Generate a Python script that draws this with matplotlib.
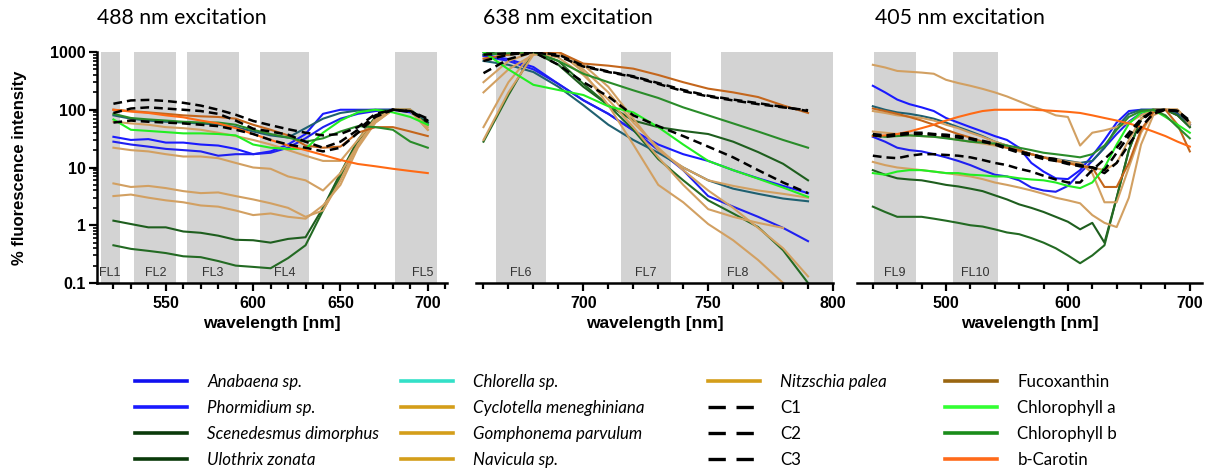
import numpy as np
import matplotlib.pyplot as plt
from matplotlib.lines import Line2D
from matplotlib.ticker import MultipleLocator, LogLocator, FixedLocator, FixedFormatter, NullFormatter

plt.rcParams['font.family'] = ['Liberation Sans', 'DejaVu Sans']

# ---------------- data: 488 nm excitation ----------------
wl_488 = [520, 530, 540, 550, 560, 570, 580, 590, 600, 610, 620, 630, 640, 650, 660, 670, 680, 690, 700]
anabaena_488 = [34, 30, 31, 27, 27, 25, 24, 21, 17, 19, 25, 38, 85, 100, 100, 100, 100, 90, 60]
phormidium_488 = [28, 25, 23, 21, 20, 19, 16, 17, 17, 18, 22, 32, 50, 70, 85, 95, 100, 95, 60]
scenedesmus_488 = [1.2, 1.05, 0.92, 0.92, 0.78, 0.74, 0.66, 0.56, 0.55, 0.5, 0.58, 0.62, 2.0, 8, 30, 75, 100, 100, 60]
ulothrix_488 = [0.45, 0.39, 0.36, 0.33, 0.29, 0.28, 0.24, 0.2, 0.19, 0.18, 0.27, 0.45, 1.8, 7, 28, 70, 100, 100, 55]
chlorella_488 = [80, 70, 65, 62, 60, 58, 55, 50, 42, 36, 33, 48, 70, 88, 97, 100, 100, 95, 65]
cyclotella_488 = [62, 58, 55, 50, 48, 45, 40, 35, 30, 25, 20, 16, 13, 13, 30, 70, 100, 100, 45]
gomphonema_488 = [22, 20, 19, 17, 15.5, 15.5, 14.5, 12, 10, 9.5, 7, 6, 4, 8, 25, 60, 100, 95, 45]
navicula_488 = [5.3, 4.6, 4.8, 4.4, 3.9, 3.6, 3.7, 3.2, 2.8, 2.4, 2.0, 1.4, 1.8, 6, 25, 65, 100, 100, 50]
nitzschia_488 = [3.2, 3.4, 3.0, 2.7, 2.5, 2.2, 2.1, 1.8, 1.5, 1.6, 1.4, 1.3, 2.2, 5, 22, 60, 100, 100, 45]
c1_488 = [127, 145, 148, 142, 132, 118, 100, 82, 64, 54, 46, 40, 36, 38, 50, 85, 100, 95, 70]
c2_488 = [88, 105, 110, 105, 100, 95, 85, 65, 47, 42, 37, 28, 22, 28, 45, 80, 100, 95, 65]
c3_488 = [60, 65, 62, 60, 58, 55, 52, 45, 38, 30, 25, 22, 19, 22, 40, 75, 100, 92, 62]
fuco_488 = [100, 95, 90, 85, 80, 77, 75, 70, 55, 45, 36, 24, 22, 23, 40, 50, 50, 42, 35]
chla_488 = [68, 45, 43, 41, 39, 39, 38, 36, 25, 22, 21, 21, 40, 65, 90, 100, 90, 75, 55]
chlb_488 = [85, 72, 68, 65, 62, 60, 60, 55, 45, 38, 33, 28, 32, 42, 52, 50, 45, 28, 22]
bcar_488 = [100, 93, 88, 80, 74, 65, 58, 48, 38, 30, 24, 20, 16.5, 13.5, 11.5, 10.5, 9.5, 8.7, 8.0]

# ---------------- data: 638 nm excitation ----------------
wl_638 = [660, 670, 680, 690, 700, 710, 720, 730, 740, 750, 760, 770, 780, 790]
anabaena_638 = [900, 750, 550, 280, 146, 85, 44, 25, 17, 13, 9, 6.5, 4.8, 3.6]
phormidium_638 = [850, 700, 500, 280, 146, 85, 44, 20, 9, 3.2, 2.1, 1.4, 0.9, 0.53]
scenedesmus_638 = [1000, 900, 1000, 600, 250, 120, 65, 50, 43, 38, 28, 18.5, 11.6, 6]
ulothrix_638 = [28, 180, 1000, 700, 280, 120, 45, 14, 6, 2.7, 1.6, 0.93, 0.37, 0.1]
chlorella_638 = [700, 600, 450, 250, 120, 55, 30, 18, 10, 6, 4.3, 3.5, 2.9, 2.6]
cyclotella_638 = [200, 500, 900, 1000, 600, 250, 70, 20, 10, 6, 4.8, 4, 3.5, 3.0]
gomphonema_638 = [50, 300, 1000, 800, 400, 150, 50, 15, 5, 1.9, 1.4, 1.1, 0.9, np.nan]
navicula_638 = [30, 200, 900, 1000, 450, 120, 25, 5, 2.5, 1.05, 0.55, 0.25, 0.1, np.nan]
nitzschia_638 = [300, 700, 1000, 950, 500, 200, 60, 22, 9, 4, 2, 0.9, 0.4, 0.13]
c1_638 = [700, 900, 1000, 850, 560, 450, 370, 280, 210, 170, 145, 125, 110, 98]
c2_638 = [430, 750, 1000, 900, 580, 460, 380, 290, 220, 175, 150, 130, 112, 95]
c3_638 = [900, 950, 1000, 600, 300, 170, 80, 52, 35, 23, 15, 9, 5.5, 3.6]
fuco_638 = [770, 900, 1000, 1000, 630, 580, 515, 400, 300, 232, 200, 166, 119, 88]
chla_638 = [1000, 500, 270, 220, 180, 115, 90, 50, 25, 13, 9, 6.4, 4.5, 3.1]
chlb_638 = [900, 950, 1000, 700, 420, 300, 217, 160, 110, 80, 58, 42, 30, 22]

# ---------------- data: 405 nm excitation ----------------
wl_405 = [440, 450, 460, 470, 480, 490, 500, 510, 520, 530, 540, 550, 560, 570,
          580, 590, 600, 610, 620, 630, 640, 650, 660, 670, 680, 690, 700]
anabaena_405 = [260, 200, 150, 125, 110, 95, 72, 60, 50, 42, 35, 30, 22, 12,
                8.5, 6.5, 6.3, 9, 16, 30, 60, 95, 100, 100, 100, 85, 55]
phormidium_405 = [34, 28, 22, 20, 19, 17, 15, 13, 11, 9, 7.5, 7, 6, 4.5,
                  4, 3.8, 4.8, 8, 13, 22, 38, 62, 88, 100, 100, 88, 55]
scenedesmus_405 = [9, 7.5, 6.5, 6.2, 6, 5.5, 5, 4.7, 4.3, 3.9, 3.3, 2.8, 2.3, 2,
                   1.7, 1.4, 1.15, 0.85, 1.1, 0.5, 3, 20, 70, 100, 100, 80, 50]
ulothrix_405 = [2.1, 1.7, 1.4, 1.4, 1.4, 1.3, 1.2, 1.1, 1.0, 0.95, 0.85, 0.75, 0.7, 0.6,
                0.5, 0.4, 0.3, 0.22, 0.3, 0.45, 3, 20, 70, 100, 100, 80, 50]
chlorella_405 = [115, 100, 90, 85, 78, 70, 60, 50, 42, 35, 28, 24, 20, 17,
                 15, 14, 13, 12, 13, 22, 50, 85, 100, 100, 100, 90, 55]
cyclotella_405 = [600, 540, 470, 455, 440, 420, 330, 290, 260, 230, 200, 170, 140, 115,
                  98, 80, 75, 24, 40, 44, 50, 60, 80, 100, 100, 100, 60]
gomphonema_405 = [42, 40, 38, 36, 35, 34, 33, 30, 28, 26, 24, 22, 19, 17,
                  15, 14, 12.5, 12, 8, 2.5, 2.5, 10, 40, 90, 100, 100, 60]
navicula_405 = [12.5, 11, 10, 9.5, 9, 8.5, 8, 7.5, 7, 6.3, 5.5, 5, 4.5, 4,
                3.5, 3, 2.7, 2.4, 1.5, 1.1, 0.93, 3, 25, 80, 100, 100, 55]
nitzschia_405 = [95, 88, 80, 76, 72, 65, 55, 48, 40, 34, 28, 24, 20, 17,
                 15, 13, 12, 11, 10, 9, 12, 30, 70, 100, 100, 100, 60]
c1_405 = [38, 36, 38, 40, 40, 38, 37, 35, 32, 29, 26, 22, 19, 17,
          15, 14, 12, 11, 10, 8, 12, 25, 50, 85, 100, 95, 65]
c2_405 = [36, 34, 36, 38, 38, 37, 35, 33, 31, 28, 25, 21, 18, 16,
          14, 13, 11.5, 10.5, 10, 9, 18, 35, 65, 95, 100, 95, 60]
c3_405 = [16, 15, 14.5, 16, 17, 17, 16.5, 16, 15, 13.5, 12, 11, 9.5, 8.5,
          7.2, 6.2, 5.5, 5.5, 9, 14, 22, 40, 70, 95, 100, 95, 60]
fuco_405 = [105, 95, 85, 75, 65, 55, 45, 38, 33, 28, 25, 22, 20, 17,
            15, 13, 12, 10.5, 10, 4.6, 4.6, 12, 45, 90, 100, 55, 19]
chla_405 = [8, 7.5, 8.5, 9, 9, 8.5, 8, 8, 7.5, 7.3, 7, 7, 6.5, 6.2,
            6, 5.5, 4.8, 4.4, 5.5, 10, 25, 57, 90, 100, 75, 55, 40]
chlb_405 = [36, 34, 35, 36, 35, 34, 32, 30, 28, 27, 26, 24, 22, 20,
            18, 17, 16, 15, 17, 24, 45, 75, 95, 100, 80, 50, 32]
bcar_405 = [35, 36, 38, 42, 48, 55, 65, 75, 85, 95, 100, 100, 100, 100,
            98, 95, 92, 88, 80, 72, 65, 58, 50, 42, 35, 28, 23]

# filter bands and their labels
bands_488 = [(513, 524), (532, 556), (562, 592), (604, 632), (681, 705)]
bandlab_488 = ['FL1', 'FL2', 'FL3', 'FL4', 'FL5']
bandlab_x_488 = [518, 544, 577, 618, 697]
bands_638 = [(665, 685), (715, 735), (755, 800)]
bandlab_638 = ['FL6', 'FL7', 'FL8']
bandlab_x_638 = [675, 725, 762]
bands_405 = [(441, 475), (506, 543)]
bandlab_405 = ['FL9', 'FL10']
bandlab_x_405 = [458, 524]

# legend entries
names = ['Anabaena sp.', 'Phormidium sp.', 'Scenedesmus dimorphus', 'Ulothrix zonata',
         'Chlorella sp.', 'Cyclotella meneghiniana', 'Gomphonema parvulum', 'Navicula sp.',
         'Nitzschia palea', 'C1', 'C2', 'C3',
         'Fucoxanthin', 'Chlorophyll a', 'Chlorophyll b', 'b-Carotin']
leg_colors = ['#1010f0', '#1a1aff', '#0a3a0a', '#0a3a0a',
              '#33e0c8', '#d49e1a', '#d49e1a', '#d49e1a',
              '#d49e1a', 'black', 'black', 'black',
              '#9a6610', '#33ff33', '#1a8c1a', '#ff6a1a']
plot_colors = ['#1a1aff', '#2020f0', '#1e5e1e', '#236a23',
               '#1f6070', '#d2a062', '#d2a062', '#d2a062',
               '#d2a062', 'black', 'black', 'black',
               '#c4661c', '#22ee22', '#2a8c2a', '#ff6a14']
dashed = [False] * 9 + [True] * 3 + [False] * 4
italic = [True] * 9 + [False] * 7

panel_488 = [anabaena_488, phormidium_488, scenedesmus_488, ulothrix_488, chlorella_488,
             cyclotella_488, gomphonema_488, navicula_488, nitzschia_488,
             c1_488, c2_488, c3_488, fuco_488, chla_488, chlb_488, bcar_488]
panel_638 = [anabaena_638, phormidium_638, scenedesmus_638, ulothrix_638, chlorella_638,
             cyclotella_638, gomphonema_638, navicula_638, nitzschia_638,
             c1_638, c2_638, c3_638, fuco_638, chla_638, chlb_638, None]
panel_405 = [anabaena_405, phormidium_405, scenedesmus_405, ulothrix_405, chlorella_405,
             cyclotella_405, gomphonema_405, navicula_405, nitzschia_405,
             c1_405, c2_405, c3_405, fuco_405, chla_405, chlb_405, bcar_405]

W, H = 1216, 474
fig = plt.figure(figsize=(W / 100, H / 100), dpi=100)


def px_axes(left, top, width, height):
    return fig.add_axes([left / W, 1 - (top + height) / H, width / W, height / H])


def draw_panel(ax, wl, series, bands, lab, lab_x, xlim, major, minor, show_y):
    ax.set_yscale('log')
    ax.set_ylim(0.1, 1000)
    ax.set_xlim(*xlim)
    for (a, b) in bands:
        ax.axvspan(a, b, color='#d3d3d3', lw=0, zorder=0)
    for t, x in zip(lab, lab_x):
        ax.text(x, 0.15, t, ha='center', va='center', fontsize=9, color='#333333', zorder=1)
    for vals, col, d in zip(series, plot_colors, dashed):
        if vals is None:
            continue
        if d:
            ax.plot(wl, vals, color=col, lw=1.8, ls=(0, (3.5, 2)), zorder=3)
        else:
            ax.plot(wl, vals, color=col, lw=1.5, zorder=2)
    for s in ['top', 'right']:
        ax.spines[s].set_visible(False)
    ax.spines['bottom'].set_linewidth(1.8)
    ax.xaxis.set_major_locator(MultipleLocator(major))
    ax.xaxis.set_minor_locator(MultipleLocator(minor))
    ax.tick_params(axis='x', which='major', length=6, width=1.6, labelsize=11.5, pad=3)
    ax.tick_params(axis='x', which='minor', length=4, width=1.6)
    for lbl in ax.get_xticklabels():
        lbl.set_fontweight('bold')
    ax.set_xlabel('wavelength [nm]', fontsize=12.5, fontweight='bold', labelpad=4)
    if show_y:
        ax.spines['left'].set_linewidth(1.8)
        ax.yaxis.set_major_locator(FixedLocator([0.1, 1, 10, 100, 1000]))
        ax.yaxis.set_major_formatter(FixedFormatter(['0.1', '1', '10', '100', '1000']))
        ax.yaxis.set_minor_locator(LogLocator(base=10, subs=np.arange(2, 10)))
        ax.yaxis.set_minor_formatter(NullFormatter())
        ax.tick_params(axis='y', which='major', length=6, width=1.6, labelsize=11.5, pad=2)
        ax.tick_params(axis='y', which='minor', length=3, width=1.2)
        for lbl in ax.get_yticklabels():
            lbl.set_fontweight('bold')
    else:
        ax.spines['left'].set_visible(False)
        ax.tick_params(axis='y', which='both', left=False, labelleft=False)


ax1 = px_axes(97, 52, 350, 231)
ax2 = px_axes(476, 52, 357, 231)
ax3 = px_axes(857, 52, 345, 231)

draw_panel(ax1, wl_488, panel_488, bands_488, bandlab_488, bandlab_x_488, (510.6, 711), 50, 10, True)
draw_panel(ax2, wl_638, panel_638, bands_638, bandlab_638, bandlab_x_638, (657, 800), 50, 10, False)
draw_panel(ax3, wl_405, panel_405, bands_405, bandlab_405, bandlab_x_405, (427, 710), 100, 20, False)

title_font = ['Lato', 'DejaVu Sans']
fig.text(97 / W, 1 - 18 / H, '488 nm excitation', fontsize=15.3, family=title_font, va='center')
fig.text(483 / W, 1 - 18 / H, '638 nm excitation', fontsize=15.3, family=title_font, va='center')
fig.text(875 / W, 1 - 18 / H, '405 nm excitation', fontsize=15.3, family=title_font, va='center')
fig.text(20 / W, 1 - 168 / H, '% fluorescence intensity', rotation=90, fontsize=12,
         fontweight='bold', ha='center', va='center')

# legend, four columns placed separately
col_left = [120, 386, 693, 930]
for c in range(4):
    handles = []
    labels = []
    for i in range(c * 4, c * 4 + 4):
        if dashed[i]:
            h = Line2D([], [], color=leg_colors[i], lw=2.4, ls=(0, (5.2, 3.2)))
        else:
            h = Line2D([], [], color=leg_colors[i], lw=2.6)
        handles.append(h)
        labels.append(names[i])
    leg = fig.legend(handles, labels, loc='upper left',
                     bbox_to_anchor=(col_left[c] / W, 1 - 359 / H),
                     frameon=False, handlelength=3.05, handletextpad=1.2,
                     labelspacing=0.58, prop={'family': ['Lato', 'DejaVu Sans'], 'size': 12.2})
    for i, t in zip(range(c * 4, c * 4 + 4), leg.get_texts()):
        if italic[i]:
            t.set_fontstyle('italic')

fig.savefig('out.png', dpi=100)
